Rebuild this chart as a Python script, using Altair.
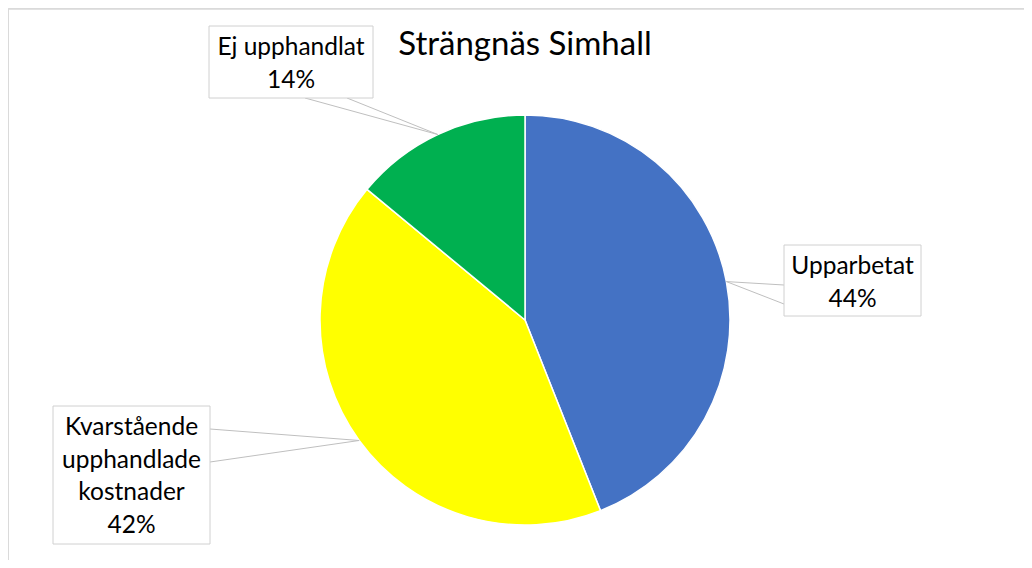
import altair as alt
import numpy as np
import pandas as pd

# ---- data ----
categories = ["Upparbetat", "Kvarstående upphandlade kostnader", "Ej upphandlat"]
values = [44, 42, 14]
label_text = ["Upparbetat\n44%", "Kvarstående\nupphandlade\nkostnader\n42%", "Ej upphandlat\n14%"]
colors = ["#4472C4", "#FFFF00", "#00B050"]
title_text = "Strängnäs Simhall"

# ---- layout (chart pixel coordinates) ----
W, H = 1016, 552
CX, CY, R = 517, 312, 205
# label boxes: x0, x1, y0, y1 and two leader attach points
boxes = {
    "Upparbetat": dict(x0=776, x1=913, y0=237, y1=308, a=[(776, 277), (776, 296)]),
    "Kvarstående upphandlade kostnader": dict(x0=45, x1=202, y0=398, y1=536, a=[(202, 421), (202, 454)]),
    "Ej upphandlat": dict(x0=201, x1=365, y0=18, y1=90, a=[(297, 90), (339, 90)]),
}
FIRST_LINE_OFFSET = 22

df = pd.DataFrame({"cat": categories, "value": values, "order": range(len(values)), "label": label_text})

# leader end points on pie edge at slice mid-angles
v = np.array(values, dtype=float)
cum = np.cumsum(v)
mid = (cum - v / 2) / v.sum() * 2 * np.pi
ex = CX + R * np.sin(mid)
ey = CY - R * np.cos(mid)

box_rows, lead_rows = [], []
for i, c in enumerate(categories):
    b = boxes[c]
    box_rows.append(dict(cat=c, x0=b["x0"], x1=b["x1"], y0=b["y0"], y1=b["y1"],
                         tx=(b["x0"] + b["x1"]) / 2, ty=b["y0"] + FIRST_LINE_OFFSET, label=label_text[i]))
    for (ax, ay) in b["a"]:
        lead_rows.append(dict(cat=c, x=ax, y=ay, x2=ex[i], y2=ey[i]))
box_df = pd.DataFrame(box_rows)
lead_df = pd.DataFrame(lead_rows)

xs = alt.Scale(domain=[0, W], range=[0, W])
ys = alt.Scale(domain=[0, H], range=[0, H])

pie = alt.Chart(df).mark_arc(outerRadius=R, stroke="white", strokeWidth=1.5).encode(
    theta=alt.Theta("value:Q", stack=True),
    order=alt.Order("order:Q"),
    color=alt.Color("cat:N", scale=alt.Scale(domain=categories, range=colors), legend=None),
    x=alt.value(CX),
    y=alt.value(CY),
)

leaders = alt.Chart(lead_df).mark_rule(color="#bfbfbf", strokeWidth=1).encode(
    x=alt.X("x:Q", scale=xs, axis=None),
    y=alt.Y("y:Q", scale=ys, axis=None),
    x2="x2:Q",
    y2="y2:Q",
)

rects = alt.Chart(box_df).mark_rect(fill="white", stroke="#d0d0d0", strokeWidth=1).encode(
    x=alt.X("x0:Q", scale=xs, axis=None),
    x2="x1:Q",
    y=alt.Y("y0:Q", scale=ys, axis=None),
    y2="y1:Q",
)

texts = alt.Chart(box_df).mark_text(
    font="Lato", fontSize=24.5, color="#000000", lineBreak="\n", lineHeight=32.5,
    align="center", baseline="middle"
).encode(
    x=alt.X("tx:Q", scale=xs, axis=None),
    y=alt.Y("ty:Q", scale=ys, axis=None),
    text="label:N",
)

title = alt.Chart(pd.DataFrame({"t": [title_text]})).mark_text(
    font="Lato", fontSize=33, color="#000000", align="center", baseline="middle"
).encode(x=alt.value(CX), y=alt.value(37), text="t:N")

frame = alt.Chart(pd.DataFrame({"k": [0]})).mark_rule(color="#d9d9d9", strokeWidth=1.5).encode(
    x=alt.value(0), x2=alt.value(W), y=alt.value(1)
) + alt.Chart(pd.DataFrame({"k": [0]})).mark_rule(color="#d9d9d9", strokeWidth=1.5).encode(
    x=alt.value(0), y=alt.value(1), y2=alt.value(H + 8)
)

chart = alt.layer(frame, pie, leaders, rects, texts, title).properties(
    width=W, height=H, padding=0,
    autosize=alt.AutoSizeParams(type="none"),
).configure_view(stroke="transparent", strokeWidth=0).configure(background="white")

chart.save("out.html", embed_options={"renderer": "svg", "actions": False})
